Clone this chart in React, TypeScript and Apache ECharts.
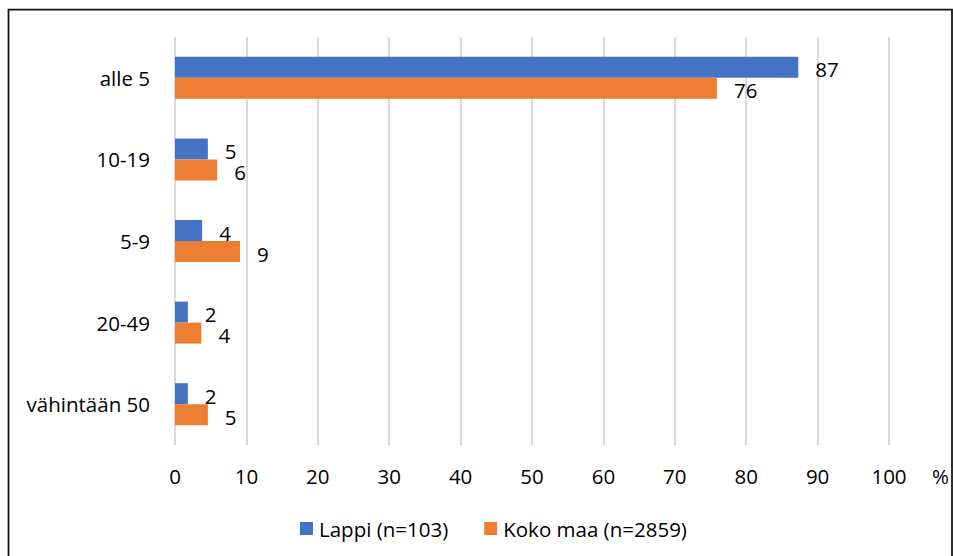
import React, { useEffect, useRef } from "react";
import * as echarts from "echarts";

const categories = ["alle 5", "10-19", "5-9", "20-49", "vähintään 50"];
const lappiValues = [87.3, 4.6, 3.8, 1.8, 1.8];
const kokoMaaValues = [75.9, 5.9, 9.1, 3.7, 4.6];
const seriesNames = ["Lappi (n=103)", "Koko maa (n=2859)"];
const xTicks = { min: 0, max: 100, interval: 10 };
const unitLabel = "%";

const FONT = "Open Sans";
const FS = 20.5;

export default function App() {
  const ref = useRef<HTMLDivElement>(null);
  useEffect(() => {
    if (!ref.current) return;
    const chart = echarts.init(ref.current, null, { renderer: "svg" });
    const labelCfg = {
      show: true,
      position: "right" as const,
      distance: 17,
      offset: [0, 2],
      fontFamily: FONT,
      fontSize: FS,
      color: "#000",
      formatter: (p: any) => String(Math.round(p.value)),
    };
    chart.setOption({
      animation: false,
      backgroundColor: "#fff",
      textStyle: { fontFamily: FONT },
      grid: { left: 175, right: 64, top: 37, bottom: 111, containLabel: false },
      legend: {
        data: seriesNames,
        left: 295,
        top: 513,
        icon: "rect",
        itemWidth: 13,
        itemHeight: 13,
        itemGap: 36,
        itemStyle: { borderWidth: 0 },
        textStyle: { fontFamily: FONT, fontSize: FS, color: "#000", padding: [0, 0, 0, 1] },
      },
      xAxis: {
        type: "value",
        min: xTicks.min,
        max: xTicks.max,
        interval: xTicks.interval,
        axisLine: { show: false },
        axisTick: { show: false },
        splitLine: { show: true, lineStyle: { color: "#d9d9d9", width: 2 } },
        axisLabel: { fontFamily: FONT, fontSize: FS, color: "#000", margin: 20 },
      },
      yAxis: {
        type: "category",
        data: categories,
        inverse: true,
        axisLine: { show: false },
        axisTick: { show: false },
        axisLabel: { fontFamily: FONT, fontSize: FS, color: "#000", margin: 25 },
      },
      series: [
        {
          name: seriesNames[0],
          type: "bar",
          data: lappiValues,
          barWidth: 21,
          barGap: "0%",
          itemStyle: { color: "#4472C4" },
          label: labelCfg,
        },
        {
          name: seriesNames[1],
          type: "bar",
          data: kokoMaaValues,
          barWidth: 21,
          barGap: "0%",
          itemStyle: { color: "#ED7D31" },
          label: labelCfg,
        },
      ],
      graphic: [
        {
          type: "text",
          left: 932,
          top: 465,
          style: { text: unitLabel, fontFamily: FONT, fontSize: FS, fill: "#000" },
        },
        {
          type: "rect",
          shape: { x: 8.5, y: 9.5, width: 943.5, height: 560 },
          style: { fill: "none", stroke: "#111", lineWidth: 1.75 },
          z: 100,
        },
      ],
    });
    return () => chart.dispose();
  }, []);
  return (
    <div
      ref={ref}
      style={{ position: "fixed", left: 0, top: 0, width: 953, height: 556 }}
    />
  );
}
